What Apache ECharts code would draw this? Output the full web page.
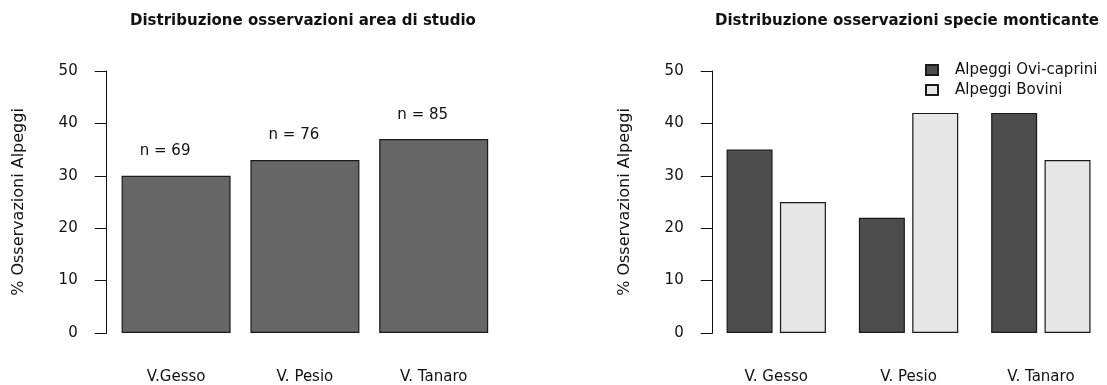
<!DOCTYPE html>
<html>
<head>
<meta charset="utf-8">
<script src="https://cdn.jsdelivr.net/npm/echarts@6/dist/echarts.min.js"></script>
<style>
  html, body { margin: 0; padding: 0; background: #fff; }
  #chart { width: 1107px; height: 385px; }
</style>
</head>
<body>
<div id="chart"></div>
<script>
// dati pannello sinistro
const leftCategories = ['V.Gesso', 'V. Pesio', 'V. Tanaro'];
const leftValues = [30, 33, 37];
const leftCounts = ['n = 69', 'n = 76', 'n = 85'];

// dati pannello destro
const rightCategories = ['V. Gesso', 'V. Pesio', 'V. Tanaro'];
const oviValues = [35, 22, 42];
const boviniValues = [25, 42, 33];
const seriesNames = ['Alpeggi Ovi-caprini', 'Alpeggi Bovini'];

// asse y
const yMin = 0;
const yMax = 50;
const yStep = 10;
const yName = '% Osservazioni Alpeggi';

const FONT = 'DejaVu Sans';
const INK = '#111';

const chart = echarts.init(document.getElementById('chart'), null, { renderer: 'canvas' });

function yAxisFor(gridIndex, offset) {
  return {
    type: 'value',
    gridIndex: gridIndex,
    min: yMin,
    max: yMax,
    interval: yStep,
    offset: offset,
    name: yName,
    nameLocation: 'middle',
    nameGap: 80,
    nameTextStyle: { fontFamily: FONT, fontSize: 16, color: INK },
    axisLine: { show: true, lineStyle: { color: INK, width: 1 } },
    axisTick: { show: true, length: 12, lineStyle: { color: INK, width: 1 } },
    axisLabel: { margin: 29, fontFamily: FONT, fontSize: 15, color: INK },
    splitLine: { show: false }
  };
}

function xAxisFor(gridIndex, cats) {
  return {
    type: 'category',
    gridIndex: gridIndex,
    data: cats,
    axisLine: { show: false },
    axisTick: { show: false },
    axisLabel: { margin: 37, fontFamily: FONT, fontSize: 15, color: INK, interval: 0 },
    splitLine: { show: false }
  };
}

const option = {
  backgroundColor: '#fff',
  animation: false,
  title: [
    {
      text: 'Distribuzione osservazioni area di studio',
      left: 125, top: 9,
      textStyle: { fontFamily: FONT, fontSize: 15, fontWeight: 'bold', color: INK }
    },
    {
      text: 'Distribuzione osservazioni specie monticante',
      left: 710, top: 9,
      textStyle: { fontFamily: FONT, fontSize: 15, fontWeight: 'bold', color: INK }
    }
  ],
  legend: {
    orient: 'vertical',
    left: 920,
    top: 56,
    icon: 'rect',
    itemWidth: 12,
    itemHeight: 10,
    itemGap: 2,
    data: seriesNames,
    textStyle: { fontFamily: FONT, fontSize: 15, color: INK, lineHeight: 18, padding: [0, 0, 0, 12] }
  },
  grid: [
    { left: 111.7, top: 71, width: 386.4, height: 262 },
    { left: 710.1, top: 71, width: 401.4, height: 262 }
  ],
  xAxis: [xAxisFor(0, leftCategories), xAxisFor(1, rightCategories)],
  yAxis: [yAxisFor(0, 5), yAxisFor(1, -2.6)],
  series: [
    {
      type: 'bar',
      xAxisIndex: 0,
      yAxisIndex: 0,
      data: leftValues,
      barWidth: 109,
      itemStyle: { color: '#666666', borderColor: '#1a1a1a', borderWidth: 1.2 },
      label: {
        show: true,
        position: 'top',
        distance: 17,
        offset: [-11, 0],
        fontFamily: FONT,
        fontSize: 15,
        color: INK,
        formatter: (p) => leftCounts[p.dataIndex]
      }
    },
    {
      name: seriesNames[0],
      type: 'bar',
      xAxisIndex: 1,
      yAxisIndex: 1,
      data: oviValues,
      barWidth: 46,
      barGap: '16%',
      itemStyle: { color: '#4d4d4d', borderColor: '#1a1a1a', borderWidth: 1.2 }
    },
    {
      name: seriesNames[1],
      type: 'bar',
      xAxisIndex: 1,
      yAxisIndex: 1,
      data: boviniValues,
      barWidth: 46,
      barGap: '16%',
      itemStyle: { color: '#e6e6e6', borderColor: '#1a1a1a', borderWidth: 1.2 }
    }
  ]
};

chart.setOption(option);
</script>
</body>
</html>
